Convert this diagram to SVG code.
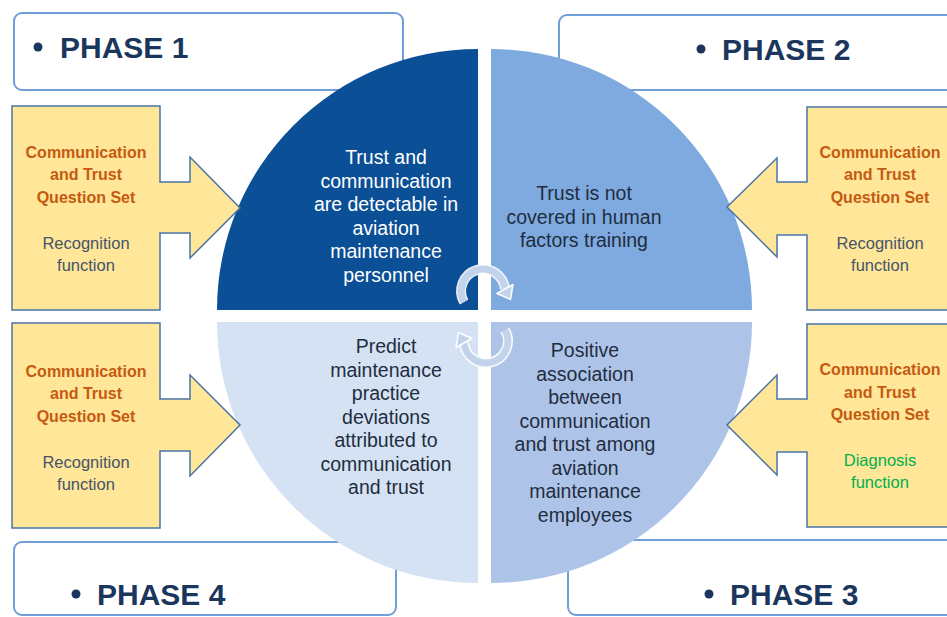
<svg xmlns="http://www.w3.org/2000/svg" width="947" height="617" viewBox="0 0 947 617">
<style>
.phasebox{fill:#ffffff;stroke:#6f9fd8;stroke-width:2}
.phase{font-family:"Liberation Sans",Arial,sans-serif;font-weight:bold;font-size:30px;fill:#1b365d}
.callout{fill:#ffe699;stroke:#4a74a8;stroke-width:1.5;stroke-linejoin:miter}
.qs{font-family:"Liberation Sans",Arial,sans-serif;font-weight:bold;font-size:16px;fill:#c55a11;text-anchor:middle}
.fn{font-family:"Liberation Sans",Arial,sans-serif;font-size:16.5px;fill:#44546a;text-anchor:middle}
.fng{font-family:"Liberation Sans",Arial,sans-serif;font-size:16.5px;fill:#00b050;text-anchor:middle}
.qt{font-family:"Liberation Sans",Arial,sans-serif;font-size:19.5px;text-anchor:middle;fill:#1f2d40}
.qtw{fill:#ffffff}
.cyc-out{fill:none;stroke:#ffffff;stroke-width:10;opacity:0.9}
.cyc-in{fill:none;stroke:#c3d3ec;stroke-width:7}
.head{fill:#c3d3ec;stroke:#ffffff;stroke-width:1.5;stroke-linejoin:round}
</style>

<g id="phase1">
<rect class="phasebox" x="14" y="13" width="389" height="77" rx="8"/>
<circle cx="38" cy="47" r="4.5" fill="#1b365d"/>
<text class="phase" x="60" y="58">PHASE 1</text>
</g>
<g id="phase2">
<rect class="phasebox" x="559" y="15" width="410" height="75" rx="8"/>
<circle cx="701" cy="49" r="4.5" fill="#1b365d"/>
<text class="phase" x="722" y="60">PHASE 2</text>
</g>
<g id="phase4">
<rect class="phasebox" x="14" y="542" width="382" height="73" rx="8"/>
<circle cx="76" cy="594" r="4.5" fill="#1b365d"/>
<text class="phase" x="97" y="605">PHASE 4</text>
</g>
<g id="phase3">
<rect class="phasebox" x="568" y="540" width="410" height="75" rx="8"/>
<circle cx="709" cy="594" r="4.5" fill="#1b365d"/>
<text class="phase" x="730" y="605">PHASE 3</text>
</g>

<g id="quadrant-tl">
<path d="M478,310 L217,310 A261,261 0 0 1 478,49 Z" fill="#0b4f96"/>
<text class="qt qtw" x="386" y="164">Trust and</text>
<text class="qt qtw" x="386" y="187.5">communication</text>
<text class="qt qtw" x="386" y="211">are detectable in</text>
<text class="qt qtw" x="386" y="234.5">aviation</text>
<text class="qt qtw" x="386" y="258">maintenance</text>
<text class="qt qtw" x="386" y="281.5">personnel</text>
</g>
<g id="quadrant-tr">
<path d="M491,310 L491,49 A261,261 0 0 1 752,310 Z" fill="#7eaadf"/>
<text class="qt" x="584" y="200">Trust is not</text>
<text class="qt" x="584" y="223.5">covered in human</text>
<text class="qt" x="584" y="247">factors training</text>
</g>
<g id="quadrant-br">
<path d="M491,322 L752,322 A261,261 0 0 1 491,583 Z" fill="#aec3e8"/>
<text class="qt" x="585" y="357">Positive</text>
<text class="qt" x="585" y="380.5">association</text>
<text class="qt" x="585" y="404">between</text>
<text class="qt" x="585" y="427.5">communication</text>
<text class="qt" x="585" y="451">and trust among</text>
<text class="qt" x="585" y="474.5">aviation</text>
<text class="qt" x="585" y="498">maintenance</text>
<text class="qt" x="585" y="521.5">employees</text>
</g>
<g id="quadrant-bl">
<path d="M478,322 L478,583 A261,261 0 0 1 217,322 Z" fill="#d5e2f3"/>
<text class="qt" x="386" y="353">Predict</text>
<text class="qt" x="386" y="376.5">maintenance</text>
<text class="qt" x="386" y="400">practice</text>
<text class="qt" x="386" y="423.5">deviations</text>
<text class="qt" x="386" y="447">attributed to</text>
<text class="qt" x="386" y="470.5">communication</text>
<text class="qt" x="386" y="494">and trust</text>
</g>

<g id="connectors">
<path class="cyc-out" d="M464,302 A22,22 0 1 1 505,289"/>
<path class="cyc-in" d="M464,302 A22,22 0 1 1 505,289"/>
<polygon class="head" points="513,284.5 497,293.5 510.5,299.5"/>
<path class="cyc-out" d="M505,330 A22,22 0 1 1 464,343"/>
<path class="cyc-in" d="M505,330 A22,22 0 1 1 464,343"/>
<polygon class="head" points="456,347.5 472,338.5 458.5,332.5"/>
</g>

<g id="input-phase1">
<path class="callout" d="M12,106 L160,106 L160,182 L190,182 L190,157 L240,208 L190,258 L190,233 L160,233 L160,310 L12,310 Z"/>
<text class="qs" x="86" y="158">Communication</text>
<text class="qs" x="86" y="180">and Trust</text>
<text class="qs" x="86" y="203">Question Set</text>
<text class="fn" x="86" y="249">Recognition</text>
<text class="fn" x="86" y="271">function</text>
</g>
<g id="input-phase4">
<path class="callout" d="M12,323 L160,323 L160,399 L190,399 L190,375 L240,425 L190,476 L190,451 L160,451 L160,528 L12,528 Z"/>
<text class="qs" x="86" y="377">Communication</text>
<text class="qs" x="86" y="399">and Trust</text>
<text class="qs" x="86" y="422">Question Set</text>
<text class="fn" x="86" y="468">Recognition</text>
<text class="fn" x="86" y="490">function</text>
</g>
<g id="input-phase2">
<path class="callout" d="M955,107 L807,107 L807,182 L777,182 L777,158 L727,207 L777,257 L777,235 L807,235 L807,310 L955,310"/>
<text class="qs" x="880" y="158">Communication</text>
<text class="qs" x="880" y="180">and Trust</text>
<text class="qs" x="880" y="203">Question Set</text>
<text class="fn" x="880" y="249">Recognition</text>
<text class="fn" x="880" y="271">function</text>
</g>
<g id="input-phase3">
<path class="callout" d="M955,324 L807,324 L807,399 L777,399 L777,375 L727,425 L777,475 L777,452 L807,452 L807,527 L955,527"/>
<text class="qs" x="880" y="375">Communication</text>
<text class="qs" x="880" y="398">and Trust</text>
<text class="qs" x="880" y="420">Question Set</text>
<text class="fng" x="880" y="466">Diagnosis</text>
<text class="fng" x="880" y="488">function</text>
</g>
</svg>
